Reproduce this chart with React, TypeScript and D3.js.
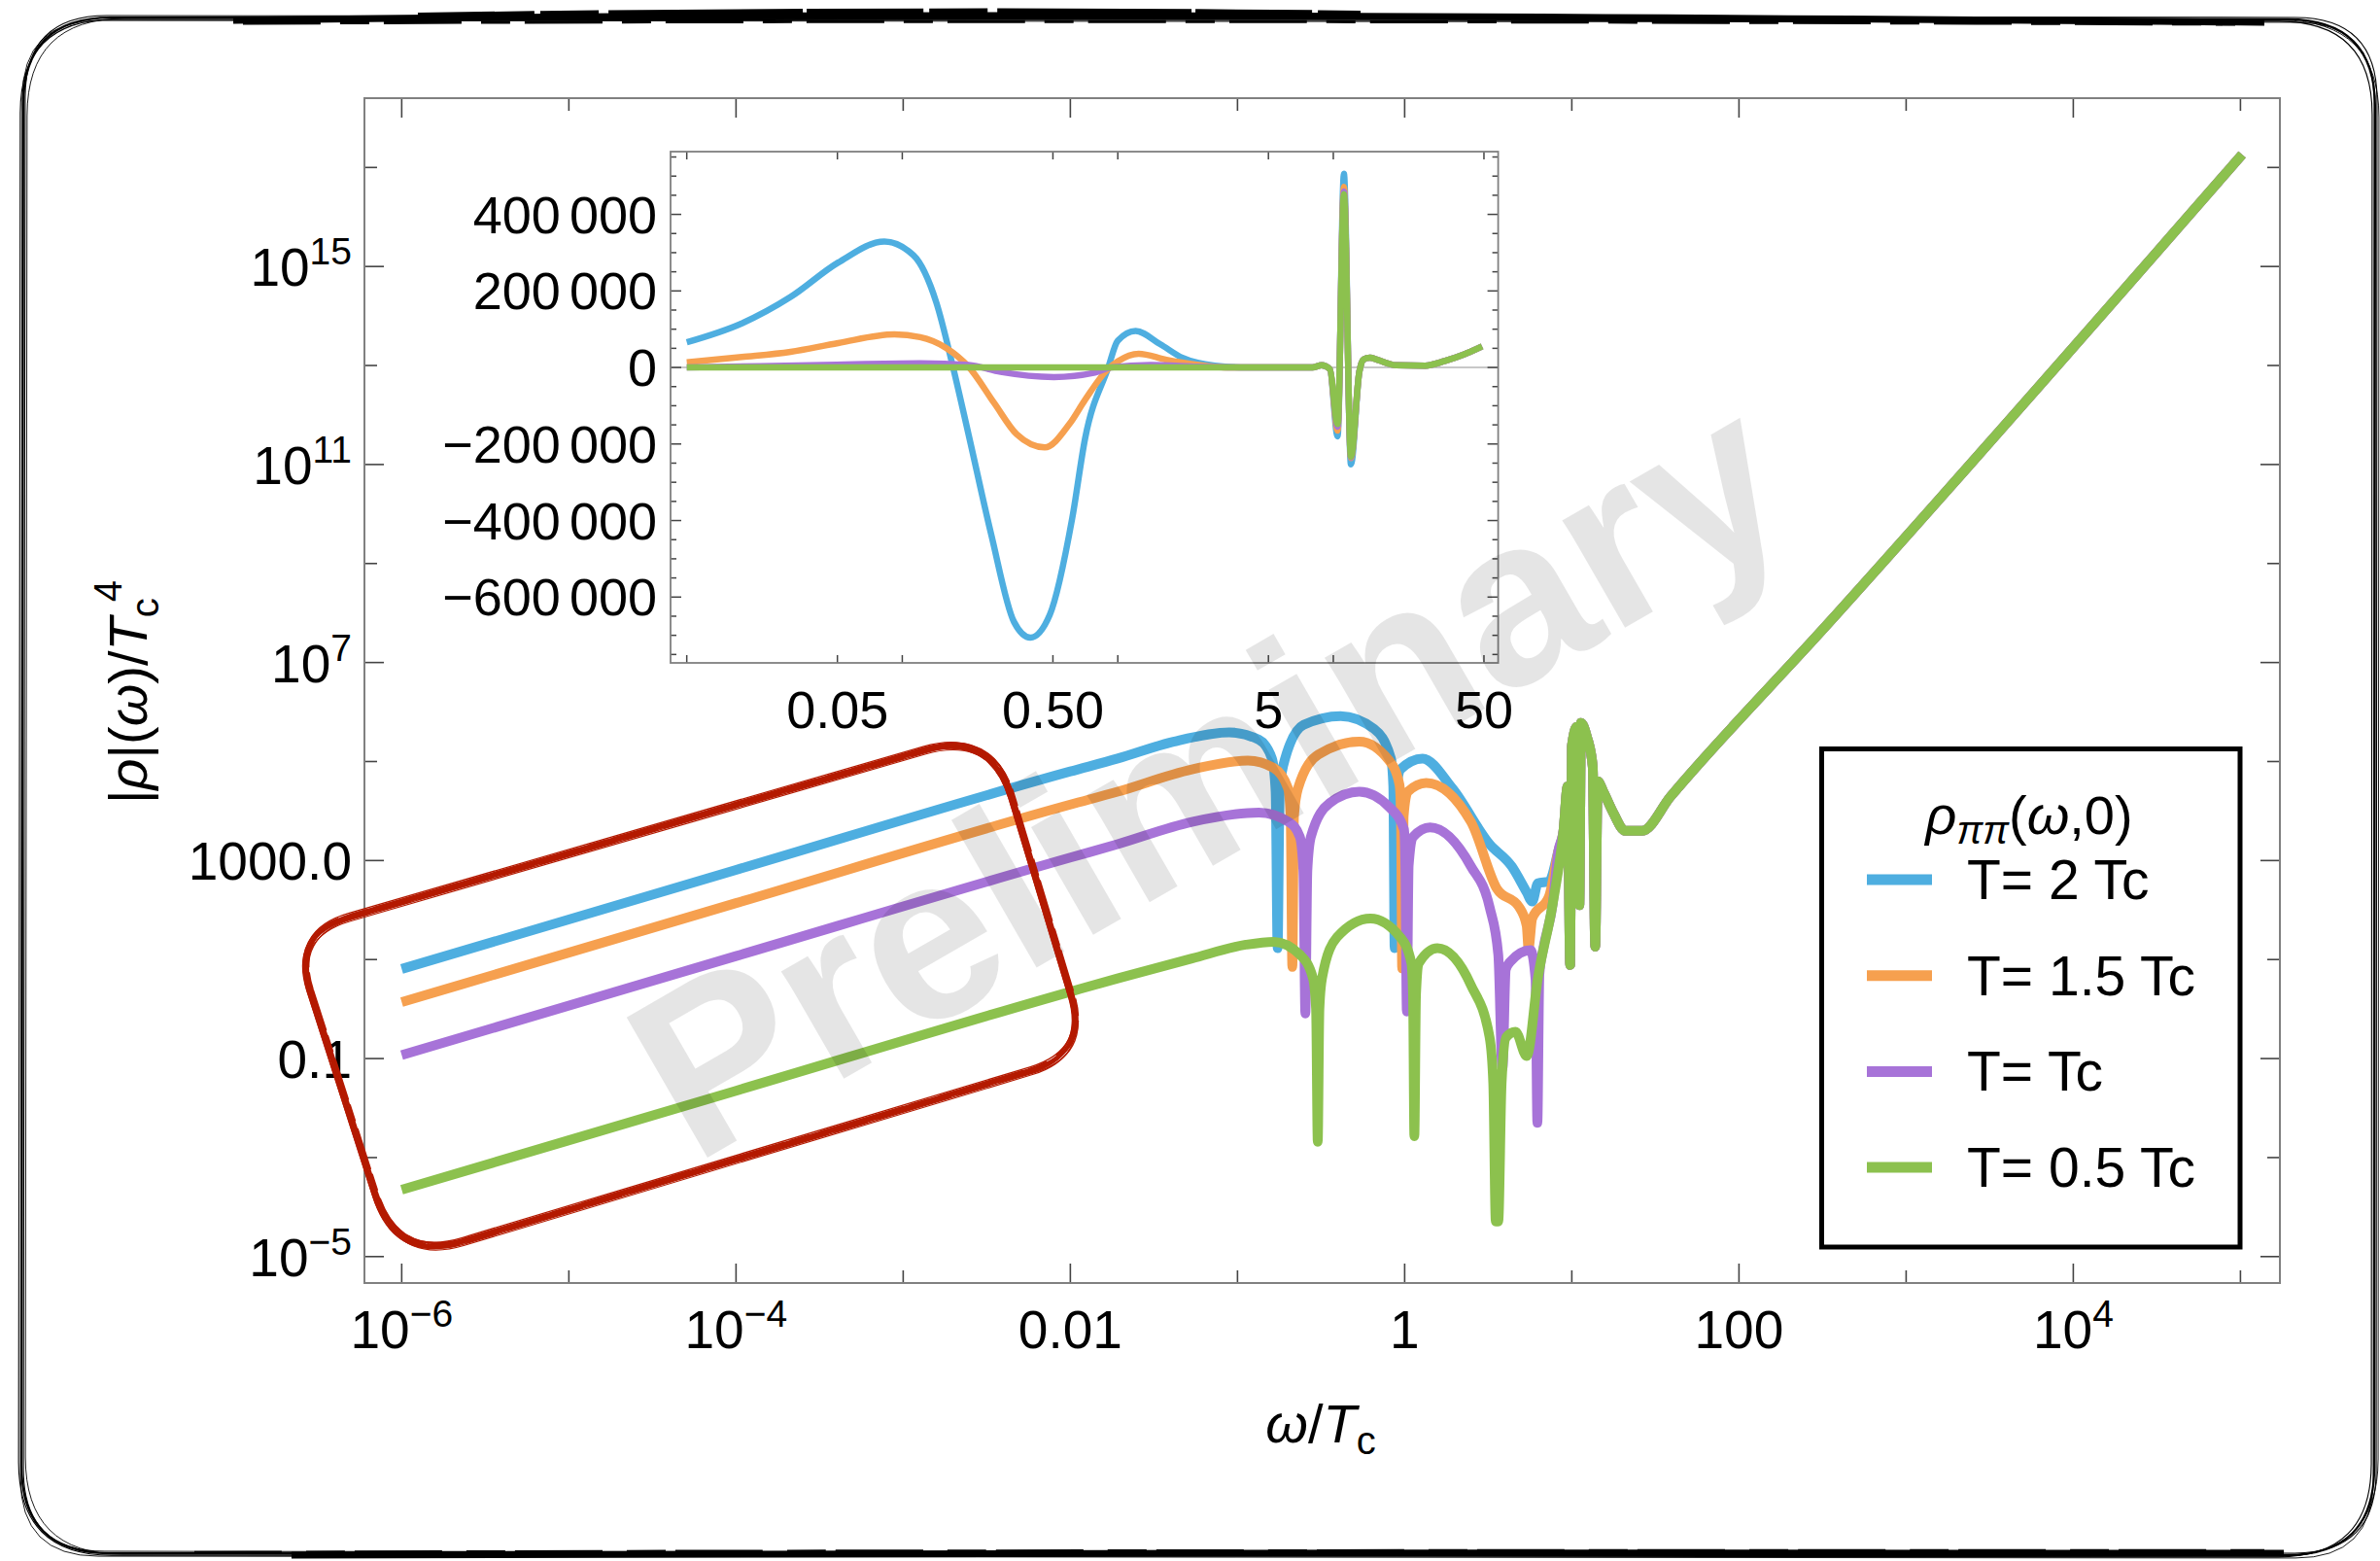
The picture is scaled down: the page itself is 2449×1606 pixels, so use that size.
import React from 'react';
import * as d3 from 'd3';

// main panel: [log10(omega/Tc), log10(|rho|/Tc^4)]
const blueMain = [
  [-6, 0.81], [-4, 2.81], [-2, 4.8], [-1.717, 5.06], [-1.384, 5.4], [-1.05, 5.59], [-0.872, 5.44],
  [-0.794, 5.06], [-0.772, 4.4], [-0.76, 1.23], [-0.748, 4.3], [-0.727, 4.91], [-0.605, 5.74],
  [-0.383, 5.92], [-0.183, 5.66], [-0.082, 5.06], [-0.068, 4.5], [-0.06, 1.23], [-0.05, 4.4],
  [-0.026, 4.84], [0.107, 5.06], [0.285, 4.46], [0.508, 3.33], [0.641, 2.88], [0.73, 2.36],
  [0.763, 2.17], [0.797, 2.54], [0.864, 2.58], [0.92, 3.2],
];
const orangeMain = [
  [-6, 0.14], [-4, 2.14], [-2, 4.13], [-1.717, 4.39], [-1.273, 4.84], [-0.938, 5.02], [-0.783, 4.87],
  [-0.698, 4.46], [-0.682, 3.9], [-0.672, 0.85], [-0.662, 3.9], [-0.638, 4.46], [-0.516, 5.14],
  [-0.271, 5.4], [-0.093, 5.02], [-0.031, 4.53], [-0.022, 3.9], [-0.015, 0.82], [-0.006, 3.9],
  [0.018, 4.39], [0.129, 4.57], [0.397, 3.78], [0.552, 2.43], [0.685, 2.06], [0.73, 1.68],
  [0.741, 1.23], [0.763, 1.83], [0.864, 2.28], [0.92, 3.2],
];
const purpleMain = [
  [-6, -0.93], [-4, 1.07], [-2, 3.06], [-1.717, 3.33], [-1.273, 3.78], [-0.872, 3.97], [-0.694, 3.78],
  [-0.627, 3.48], [-0.606, 2.8], [-0.594, -0.09], [-0.582, 2.8], [-0.561, 3.48], [-0.449, 4.16],
  [-0.271, 4.39], [-0.093, 4.08], [-0.004, 3.63], [0.004, 2.9], [0.013, -0.05], [0.024, 2.9],
  [0.051, 3.48], [0.152, 3.67], [0.397, 2.88], [0.508, 2.06], [0.56, 1.1], [0.585, -1.2],
  [0.605, 0.8], [0.63, 0.95], [0.753, 1.19], [0.783, 0.6], [0.794, -2.3], [0.806, 0.7],
  [0.83, 1.23], [0.886, 2.13], [0.92, 3.2],
];
const greenMain = [
  [-6, -3.65], [-4, -1.65], [-2, 0.35], [-1.717, 0.62], [-1.273, 1.02], [-0.95, 1.3], [-0.783, 1.36],
  [-0.627, 1.1], [-0.549, 0.63], [-0.53, 0.0], [-0.52, -2.68], [-0.51, 0.0], [-0.494, 0.63],
  [-0.405, 1.45], [-0.205, 1.83], [-0.026, 1.45], [0.04, 0.93], [0.05, 0.3], [0.058, -2.57],
  [0.068, 0.3], [0.085, 0.93], [0.196, 1.23], [0.397, 0.48], [0.508, -0.57], [0.53, -1.5],
  [0.545, -4.29], [0.56, -4.29], [0.58, -1.5], [0.607, -0.57], [0.663, -0.46], [0.73, -0.95],
  [0.797, 0.63], [0.886, 2.13],
];
// shared high-frequency part (all temperatures coincide)
const tailMain = [
  [0.95, 3.6], [0.975, 4.5], [0.99, 0.89], [1.0, 5.3], [1.03, 5.7], [1.045, 2.1], [1.055, 5.78],
  [1.09, 5.5], [1.125, 4.9], [1.14, 1.26], [1.155, 4.6], [1.19, 4.38], [1.25, 3.95], [1.32, 3.6],
  [1.42, 3.6], [1.59, 4.29], [2.51, 7.7], [5.01, 17.26],
];

// inset: [omega/Tc, rho/Tc^4]
const blueInset = [
  [0.01, 65600], [0.018, 115000], [0.0303, 184000], [0.0504, 274000], [0.0826, 329000],
  [0.1127, 293000], [0.1438, 170000], [0.171, 6600], [0.203, -175000], [0.259, -438000],
  [0.33, -665000], [0.393, -706000], [0.483, -647000], [0.615, -393000], [0.706, -184000],
  [0.9, -2500], [1.0, 70000], [1.21, 95500], [1.57, 61000], [2.0, 24700], [2.82, 4800], [3.98, 0],
];
const orangeInset = [
  [0.01, 13700], [0.018, 27400], [0.0303, 41000], [0.0504, 63800], [0.092, 86400], [0.121, 79300],
  [0.159, 51800], [0.203, 2000], [0.267, -93000], [0.34, -175000], [0.458, -209000],
  [0.596, -148000], [0.706, -84000], [0.9, -4300], [1.0, 15800], [1.25, 35600], [1.68, 20000],
  [2.37, 6600], [3.35, 0],
];
const purpleInset = [
  [0.01, 0], [0.043, 6600], [0.121, 11000], [0.203, 6600], [0.286, -11700], [0.505, -25000],
  [0.783, -13500], [0.93, 0], [1.42, 6600], [2.37, 2000], [4.0, 0],
];
const greenInset = [[0.01, 0], [1.0, 300], [4.0, 0]];
const insetPre = [[8.0, 0], [8.83, 5800], [9.64, -4300]];
const insetSpikes = [
  [[10.47, -180000], [11.2, 506000], [12.07, -253000]],
  [[10.47, -165000], [11.2, 472000], [12.07, -237000]],
  [[10.47, -155000], [11.2, 460000], [12.07, -235000]],
  [[10.47, -148000], [11.2, 453000], [12.07, -233000]],
];
const insetPost = [
  [13.2, -11700], [13.8, 21000], [14.8, 25400], [16, 20000], [19.6, 5800], [26.7, 4800],
  [32.9, 16800], [40, 33000], [49, 55000],
];

const seriesNames = ['T= 2 Tc', 'T= 1.5 Tc', 'T= Tc', 'T= 0.5 Tc'];
const seriesColors = ['#4eaee0', '#f6a04f', '#a773d8', '#8cc14e'];

const xMajor = [1e-6, 1e-4, 1e-2, 1, 1e2, 1e4];
const xMinor = [1e-5, 1e-3, 0.1, 10, 1e3, 1e5];
const xLabels = [['10', '\u22126'], ['10', '\u22124'], ['0.01', ''], ['1', ''], ['100', ''], ['10', '4']];
const yMajor = [1e15, 1e11, 1e7, 1e3, 0.1, 1e-5];
const yMinor = [1e17, 1e13, 1e9, 1e5, 10, 1e-3];
const yLabels = [['10', '15'], ['10', '11'], ['10', '7'], ['1000.0', ''], ['0.1', ''], ['10', '\u22125']];

const insetXTicks = [0.01, 0.05, 0.1, 0.5, 1, 5, 10, 50];
const insetXLabels = [[0.05, '0.05'], [0.5, '0.50'], [5, '5'], [50, '50']];
const insetYLabels = [400000, 200000, 0, -200000, -400000, -600000];

const FONT = '"Liberation Sans", Arial, Helvetica, sans-serif';
const W = 2449;
const H = 1606;
const F = { left: 375, right: 2346, top: 101, bottom: 1320 };
const I = { left: 690, right: 1541.6, top: 156, bottom: 682 };

function roundedPoly(pts: number[][], radii: number[]) {
  const n = pts.length;
  let d = '';
  for (let i = 0; i < n; i++) {
    const p = pts[i];
    const a = pts[(i + n - 1) % n];
    const b = pts[(i + 1) % n];
    const r = radii[i];
    const la = Math.hypot(a[0] - p[0], a[1] - p[1]);
    const lb = Math.hypot(b[0] - p[0], b[1] - p[1]);
    const s = [p[0] + (a[0] - p[0]) * r / la, p[1] + (a[1] - p[1]) * r / la];
    const e = [p[0] + (b[0] - p[0]) * r / lb, p[1] + (b[1] - p[1]) * r / lb];
    d += (i === 0 ? 'M' : 'L') + s[0] + ',' + s[1] + ' Q' + p[0] + ',' + p[1] + ' ' + e[0] + ',' + e[1] + ' ';
  }
  return d + 'Z';
}

function fmtInset(v: number) {
  if (v === 0) return ['0', ''];
  const s = Math.abs(v).toString();
  const head = (v < 0 ? '\u2212' : '') + s.slice(0, s.length - 3);
  return [head, s.slice(s.length - 3)];
}

export default function App() {
  const x = d3.scaleLog().domain([Math.pow(10, -6.223), Math.pow(10, 5.236)]).range([F.left, F.right]);
  const y = d3.scaleLog().domain([Math.pow(10, -5.534), Math.pow(10, 18.4)]).range([F.bottom, F.top]);
  const ix = d3.scaleLog().domain([0.00841, 58.2]).range([I.left, I.right]);
  const iy = d3.scaleLinear().domain([-772000, 564000]).range([I.bottom, I.top]);

  const mainLine = d3.line<number[]>()
    .x(d => x(Math.pow(10, d[0])))
    .y(d => y(Math.pow(10, d[1])))
    .curve(d3.curveMonotoneX);
  const insetLine = d3.line<number[]>()
    .x(d => ix(d[0]))
    .y(d => iy(d[1]))
    .curve(d3.curveMonotoneX);

  const mainSeries = [blueMain, orangeMain, purpleMain, greenMain].map(s => s.concat(tailMain));
  const insetSeries = [blueInset, orangeInset, purpleInset, greenInset].map((s, i) =>
    s.concat(insetPre, insetSpikes[i], insetPost));

  const insetYTicks = d3.range(-750000, 550001, 50000);

  // hand-drawn red box
  const redPts = [[300, 961], [1020, 752], [1120, 1084], [408, 1298]];
  const redRadii = [62, 72, 62, 72];
  const redStrokes = [[0, 0, 4], [2, -3, 2], [-2, 2, 1.5], [3, 2, 1.3], [-1, -4, 1.3], [1, 4, 1.1], [-3, 0, 1.1]];
  const redDashes = [[1, -1, 3, '60 9 25 6'], [-1, 2, 2.5, '35 7 80 10'], [3, -2, 2, '18 5 44 8'], [-2, -2, 1.8, '90 12 20 6']];

  const outer = (dx: number, dy: number, r: number) =>
    roundedPoly([[24 + dx, 18 + dy], [2444 + dx, 20 + dy], [2443 + dx, 1600 + dy], [22 + dx, 1598 + dy]], [r, r, r, r]);
  const outerStrokes = [[0, 0, 90, 2.2], [-3, 2, 96, 1.1], [2, -2, 84, 1.1], [4, 1, 100, 0.9], [-1, 3, 80, 0.9]];

  const tickStroke = '#444';

  return (
    <svg width={W} height={H} style={{ position: 'absolute', left: 0, top: 0, display: 'block', background: '#fff' }}
      fontFamily={FONT}>
      <defs>
        <clipPath id="mainClip"><rect x={F.left} y={F.top} width={F.right - F.left} height={F.bottom - F.top} /></clipPath>
        <clipPath id="insetClip"><rect x={I.left} y={I.top} width={I.right - I.left} height={I.bottom - I.top} /></clipPath>
      </defs>
      <rect x={0} y={0} width={W} height={H} fill="#fff" />

      {/* main frame ticks */}
      <g stroke={tickStroke} strokeWidth={1.6}>
        {xMajor.map((v, i) => (
          <g key={'xM' + i}>
            <line x1={x(v)} x2={x(v)} y1={F.bottom} y2={F.bottom - 20} />
            <line x1={x(v)} x2={x(v)} y1={F.top} y2={F.top + 20} />
          </g>
        ))}
        {xMinor.map((v, i) => (
          <g key={'xm' + i}>
            <line x1={x(v)} x2={x(v)} y1={F.bottom} y2={F.bottom - 13} />
            <line x1={x(v)} x2={x(v)} y1={F.top} y2={F.top + 13} />
          </g>
        ))}
        {yMajor.map((v, i) => (
          <g key={'yM' + i}>
            <line x1={F.left} x2={F.left + 20} y1={y(v)} y2={y(v)} />
            <line x1={F.right} x2={F.right - 20} y1={y(v)} y2={y(v)} />
          </g>
        ))}
        {yMinor.map((v, i) => (
          <g key={'ym' + i}>
            <line x1={F.left} x2={F.left + 13} y1={y(v)} y2={y(v)} />
            <line x1={F.right} x2={F.right - 13} y1={y(v)} y2={y(v)} />
          </g>
        ))}
      </g>
      <rect x={F.left} y={F.top} width={F.right - F.left} height={F.bottom - F.top} fill="none" stroke="#808080" strokeWidth={2} />

      {/* main tick labels */}
      <g fontSize={55} fill="#000">
        {xMajor.map((v, i) => (
          <text key={'xl' + i} x={x(v)} y={1387} textAnchor="middle">
            {xLabels[i][0]}
            {xLabels[i][1] && <tspan fontSize={39} dy={-22}>{xLabels[i][1]}</tspan>}
          </text>
        ))}
        {yMajor.map((v, i) => (
          <text key={'yl' + i} x={F.left - 13} y={y(v) + 20} textAnchor="end">
            {yLabels[i][0]}
            {yLabels[i][1] && <tspan fontSize={39} dy={-22}>{yLabels[i][1]}</tspan>}
          </text>
        ))}
      </g>

      {/* axis titles */}
      <text x={1359} y={1484} fontSize={56} textAnchor="middle">
        <tspan fontStyle="italic">ω</tspan>/<tspan fontStyle="italic">T</tspan>
        <tspan fontSize={40} dy={12}>c</tspan>
      </text>
      <text transform="translate(151,712) rotate(-90)" fontSize={56} textAnchor="middle">
        |<tspan fontStyle="italic">ρ</tspan>|(<tspan fontStyle="italic">ω</tspan>)/<tspan fontStyle="italic">T</tspan>
        <tspan fontSize={40} dy={12}>c</tspan>
        <tspan fontSize={40} dx={-4} dy={-38}>4</tspan>
      </text>

      {/* main curves */}
      <g clipPath="url(#mainClip)" fill="none" strokeWidth={10} strokeLinejoin="round">
        {mainSeries.map((s, i) => (
          <path key={'m' + i} d={mainLine(s) || ''} stroke={seriesColors[i]} />
        ))}
      </g>

      {/* inset */}
      <rect x={I.left} y={I.top} width={I.right - I.left} height={I.bottom - I.top} fill="#fff" />
      <line x1={I.left} x2={I.right} y1={iy(0)} y2={iy(0)} stroke="#c8c8c8" strokeWidth={2} />
      <g stroke={tickStroke} strokeWidth={1.5}>
        {insetXTicks.map((v, i) => (
          <g key={'ixt' + i}>
            <line x1={ix(v)} x2={ix(v)} y1={I.bottom} y2={I.bottom - 8} />
            <line x1={ix(v)} x2={ix(v)} y1={I.top} y2={I.top + 8} />
          </g>
        ))}
        {insetYTicks.map((v, i) => {
          const len = v % 200000 === 0 ? 11 : 6;
          return (
            <g key={'iyt' + i}>
              <line x1={I.left} x2={I.left + len} y1={iy(v)} y2={iy(v)} />
              <line x1={I.right} x2={I.right - len} y1={iy(v)} y2={iy(v)} />
            </g>
          );
        })}
      </g>
      <g clipPath="url(#insetClip)" fill="none" strokeWidth={6.5} strokeLinejoin="round">
        {insetSeries.map((s, i) => (
          <path key={'is' + i} d={insetLine(s) || ''} stroke={seriesColors[i]} />
        ))}
      </g>
      <rect x={I.left} y={I.top} width={I.right - I.left} height={I.bottom - I.top} fill="none" stroke="#808080" strokeWidth={1.8} />
      <g fontSize={54} fill="#000">
        {insetYLabels.map((v, i) => {
          const [a, b] = fmtInset(v);
          return (
            <text key={'iyl' + i} x={676} y={iy(v) + 19} textAnchor="end">
              {a}{b && <tspan dx={9}>{b}</tspan>}
            </text>
          );
        })}
        {insetXLabels.map((d, i) => (
          <text key={'ixl' + i} x={ix(d[0] as number)} y={749} textAnchor="middle">{d[1]}</text>
        ))}
      </g>

      {/* watermark */}
      <text x={714} y={1199} transform="rotate(-30 714 1199)" fontSize={242} fontWeight="bold"
        fill="#000" fillOpacity={0.1}>Preliminary</text>

      {/* red hand-drawn box */}
      <g fill="none" stroke="#b41a00" strokeLinejoin="round">
        {redStrokes.map((s, i) => (
          <path key={'r' + i} transform={`translate(${s[0]},${s[1]})`} d={roundedPoly(redPts, redRadii)}
            strokeWidth={s[2]} />
        ))}
        {redDashes.map((s, i) => (
          <path key={'rd' + i} transform={`translate(${s[0]},${s[1]})`} d={roundedPoly(redPts, redRadii)}
            strokeWidth={s[2] as number} strokeDasharray={s[3] as string} />
        ))}
      </g>

      {/* legend */}
      <rect x={1874.5} y={770.5} width={430.5} height={512.5} fill="#fff" stroke="#000" strokeWidth={5} />
      <text x={2088} y={858} fontSize={56} textAnchor="middle">
        <tspan fontStyle="italic">ρ</tspan>
        <tspan fontStyle="italic" fontSize={40} dy={10}>ππ</tspan>
        <tspan dy={-10}>(</tspan><tspan fontStyle="italic">ω</tspan>,0)
      </text>
      {seriesNames.map((n, i) => {
        const ly = 905 + i * 98.7;
        return (
          <g key={'lg' + i}>
            <line x1={1921} x2={1988} y1={ly} y2={ly} stroke={seriesColors[i]} strokeWidth={11} />
            <text x={2024} y={ly + 20} fontSize={57}>{n}</text>
          </g>
        );
      })}

      {/* hand-drawn outer border */}
      <g fill="none" stroke="#000">
        {outerStrokes.map((s, i) => (
          <path key={'o' + i} d={outer(s[0], s[1], s[2])} strokeWidth={s[3]} />
        ))}
        <path d="M240,21 C700,14 1300,14 2330,23" strokeWidth={7} />
        <path d="M430,17 C800,11 1200,12 1400,15" strokeWidth={8} strokeDasharray="120 6 60 10 200 4" />
        <path d="M250,24 C900,21 1600,22 2300,25" strokeWidth={3} strokeDasharray="80 20 30 15" />
        <path d="M300,1600 C900,1598 1700,1597 2350,1598" strokeWidth={7} />
        <path d="M200,1597 C800,1595 1600,1595 2330,1595" strokeWidth={2.5} strokeDasharray="90 25 40 10" />
      </g>
    </svg>
  );
}
